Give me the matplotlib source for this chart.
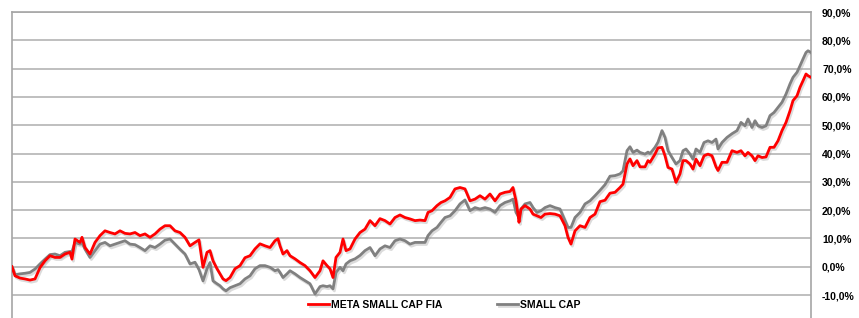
import matplotlib.pyplot as plt
import matplotlib.patheffects as pe
from matplotlib.ticker import FuncFormatter

plt.rcParams['font.family'] = ['Liberation Sans', 'DejaVu Sans']

# trading day index and cumulative returns (%)
days = [0, 3, 8, 13, 18, 23, 28, 33, 38, 43, 48, 53, 58, 60, 63, 68, 70, 73, 78, 83,
        88, 93, 98, 103, 108, 113, 118, 123, 128, 133, 138, 143, 148, 153, 158, 163, 168, 173, 178, 183,
        187, 191, 195, 198, 201, 205, 208, 211, 214, 218, 223, 228, 233, 238, 243, 248, 253, 258, 263, 266,
        268, 271, 275, 278, 283, 288, 293, 298, 303, 308, 311, 315, 318, 321, 324, 328, 331, 334, 338, 343,
        348, 353, 358, 363, 368, 373, 378, 383, 388, 393, 398, 403, 408, 413, 416, 420, 425, 429, 433, 438,
        443, 448, 453, 458, 463, 468, 473, 478, 483, 488, 493, 498, 501, 504, 506, 507, 509, 513, 518, 521,
        525, 529, 533, 538, 543, 548, 553, 556, 559, 563, 568, 573, 578, 583, 588, 593, 598, 603, 608, 611,
        615, 618, 621, 625, 628, 633, 636, 638, 643, 646, 650, 653, 656, 660, 664, 668, 671, 674, 678, 681,
        684, 688, 692, 696, 700, 704, 706, 710, 715, 720, 725, 729, 733, 736, 740, 743, 746, 750, 754, 758,
        762, 766, 770, 774, 778, 781, 785, 788, 791, 794, 796, 799]

meta_small_cap = [0.0, -3.2, -4.0, -4.3, -4.7, -4.3, -0.3, 2.1, 3.9, 3.3, 3.3, 4.5, 5.1, 2.7, 9.8, 8.6, 10.4, 6.8, 4.5, 8.6,
                  11.0, 12.7, 12.1, 11.6, 12.7, 11.8, 11.6, 12.1, 11.0, 11.6, 10.4, 11.6, 13.3, 14.5, 14.5, 12.7, 12.1, 10.4, 7.4, 8.6,
                  9.5, -0.2, 5.1, 5.7, 2.1, -0.7, -2.5, -4.3, -4.9, -3.8, -0.7, 0.4, 3.2, 3.9, 6.3, 8.1, 7.4, 6.8, 9.2, 9.9,
                  7.4, 4.5, 5.7, 3.9, 2.8, 1.5, 0.4, -1.4, -3.8, -1.4, 2.1, 0.4, -0.7, -3.8, 3.3, 5.1, 9.8, 5.7, 6.3, 9.8,
                  12.1, 13.3, 16.3, 14.5, 17.0, 16.3, 15.1, 17.4, 18.3, 17.4, 16.9, 16.3, 16.5, 16.3, 19.2, 19.8, 21.6, 22.7, 23.3, 24.5,
                  27.5, 28.0, 27.5, 23.3, 23.9, 25.1, 23.9, 25.7, 23.3, 25.7, 26.3, 26.6, 28.0, 23.3, 18.6, 15.7, 20.4, 21.6, 20.4, 18.6,
                  18.0, 17.4, 18.6, 18.8, 18.6, 18.0, 14.5, 10.4, 8.0, 12.7, 14.5, 13.9, 17.4, 18.6, 23.0, 23.5, 26.0, 26.3, 28.0, 29.2,
                  36.3, 38.1, 35.7, 37.5, 35.3, 35.3, 37.5, 36.9, 39.8, 42.0, 42.2, 39.2, 35.1, 34.5, 29.8, 32.8, 37.5, 37.5, 36.3, 34.5,
                  38.0, 35.7, 39.2, 39.8, 39.2, 35.3, 34.0, 36.9, 36.9, 41.0, 40.4, 41.0, 39.2, 40.4, 39.2, 37.5, 39.2, 38.6, 38.8, 42.2,
                  42.2, 44.5, 48.1, 51.0, 55.1, 58.7, 60.4, 63.4, 65.7, 68.1, 67.5, 66.9]

small_cap = [0.0, -2.8, -2.5, -2.3, -2.0, -0.8, 1.0, 2.7, 4.3, 4.5, 3.9, 5.1, 5.4, 5.4, 8.6, 8.0, 8.5, 6.2, 3.3, 5.7,
             8.0, 8.6, 7.4, 8.0, 8.6, 9.2, 8.0, 7.8, 6.8, 5.7, 7.4, 6.8, 8.0, 9.4, 9.8, 8.0, 6.2, 4.5, 1.0, 1.6,
             -1.0, -5.0, -0.7, 1.5, -5.0, -6.0, -6.7, -7.8, -8.5, -7.4, -6.7, -6.0, -4.3, -3.2, -0.7, 0.4, 0.4, -0.2, -1.4, -1.0,
             -2.0, -3.8, -2.5, -1.4, -2.5, -3.8, -4.9, -6.0, -9.6, -7.0, -6.7, -7.0, -6.7, -7.8, -2.0, -0.2, -1.4, 1.0, 2.1, 2.8,
             4.0, 5.7, 6.8, 3.9, 6.3, 7.4, 6.8, 9.2, 9.8, 9.2, 8.0, 8.6, 8.6, 8.6, 11.0, 12.7, 13.9, 15.7, 17.4, 18.0,
             19.8, 22.2, 23.6, 19.8, 20.9, 20.4, 20.9, 20.4, 19.2, 21.6, 22.7, 23.3, 23.9, 19.2, 18.0, 17.0, 20.4, 22.2, 22.7, 20.9,
             19.2, 19.8, 20.9, 21.6, 20.9, 20.4, 16.3, 13.9, 13.9, 17.4, 19.2, 22.2, 23.3, 25.1, 27.0, 29.0, 32.0, 32.2, 32.8, 33.9,
             41.0, 42.4, 40.4, 41.2, 40.4, 39.8, 40.5, 40.0, 42.2, 44.0, 48.1, 45.7, 41.0, 38.6, 36.3, 37.5, 41.0, 41.6, 39.8, 38.0,
             41.6, 40.4, 43.9, 44.5, 43.9, 45.1, 41.6, 43.9, 45.7, 47.0, 48.1, 51.0, 49.8, 52.2, 49.2, 51.6, 49.8, 49.2, 49.8, 53.4,
             54.5, 56.3, 58.1, 61.0, 64.6, 66.9, 68.7, 71.0, 73.4, 75.7, 76.3, 75.7]

yticks = [-10, 0, 10, 20, 30, 40, 50, 60, 70, 80, 90]

fig = plt.figure(figsize=(8.59, 3.18), dpi=100)
ax = fig.add_axes([12 / 859, 0, (811 - 12) / 859, 1 - 12 / 318])

shadow = [pe.SimpleLineShadow(offset=(1, -1.5), shadow_color='#999999', alpha=0.35), pe.Normal()]
ax.plot(days, small_cap, color='#808080', lw=2.0, label='SMALL CAP', path_effects=shadow, zorder=3)
ax.plot(days, meta_small_cap, color='#ff0000', lw=2.0, label='META SMALL CAP FIA', path_effects=shadow, zorder=4)

ax.set_xlim(days[0], days[-1])
ax.set_ylim(-18.1, 90)
ax.set_yticks(yticks)
ax.yaxis.tick_right()
ax.yaxis.set_major_formatter(FuncFormatter(lambda v, p: f'{v:.1f}%'.replace('.', ',')))
ax.tick_params(axis='y', length=0, pad=8, labelsize=7.5)
for lbl in ax.get_yticklabels():
    lbl.set_fontweight('bold')
ax.set_xticks([])
ax.grid(axis='y', color='#b4b4b4', lw=1.2)
ax.set_axisbelow(True)

for s in ['left', 'right', 'top']:
    ax.spines[s].set_color('#a6a6a6')
    ax.spines[s].set_linewidth(1.2)
ax.spines['bottom'].set_visible(False)

handles, labels = ax.get_legend_handles_labels()
fig.legend(handles[::-1], labels[::-1], loc='center', bbox_to_anchor=(0.517, 0.041), ncol=2,
           frameon=False, handlelength=2.0, handletextpad=0.15, columnspacing=5.3,
           prop={'size': 7.5, 'weight': 'bold'})

fig.savefig('out.png', dpi=100)
